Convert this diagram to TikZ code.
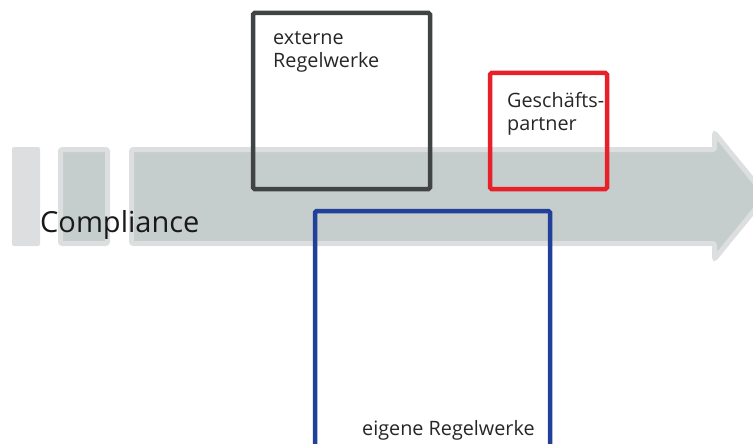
\documentclass[tikz,border=0pt]{standalone}
\usepackage{fontspec}
\setmainfont{Open Sans}
\definecolor{barrand}{HTML}{DCDEDF}
\definecolor{barfill}{HTML}{C6CDCD}
\definecolor{extgrau}{HTML}{404444}
\definecolor{partnerrot}{HTML}{E8202A}
\definecolor{eigenblau}{HTML}{21409A}
\tikzset{
  balken/.style={fill=barfill, draw=barrand, line width=5pt, rounded corners=2pt},
  rahmen/.style={line width=4.5pt, rounded corners=1.5pt},
  beschriftung/.style={anchor=base west, align=left, inner sep=0pt, font=\fontsize{19.8}{23}\selectfont, text=black!85}
}
\begin{document}
\begin{tikzpicture}[x=1pt, y=-1pt]
\useasboundingbox (0,0) rectangle (753,444);
\begin{scope}
\clip (0,0) rectangle (753,444);
% Pfeil
\fill[barrand, rounded corners=2pt] (12,147) rectangle (40,246);
\draw[balken] (60.5,149.5) rectangle (107.5,243.5);
\draw[balken] (131.5,149.5) -- (714.5,149.5) -- (714.5,133) -- (766,196)
  -- (714.5,259) -- (714.5,243.5) -- (131.5,243.5) -- cycle;
\node[anchor=base west, inner sep=0pt, font=\fontsize{29}{32}\selectfont, text=black!90] (compliance) at (40,232) {Compliance};
% Rahmen
\draw[rahmen, extgrau] (253,13) rectangle (430,189);
\draw[rahmen, partnerrot] (490,73) rectangle (607,189);
\draw[rahmen, eigenblau] (315,211) -- (315,460) -- (550,460) -- (550,211) -- cycle;
\end{scope}
\node[beschriftung] (extern) at (273,68) {externe\\Regelwerke};
\node[beschriftung] (partner) at (507,130) {Geschäfts-\\partner};
\node[beschriftung] (eigen) at (362,435) {eigene Regelwerke};
\end{tikzpicture}
\end{document}
